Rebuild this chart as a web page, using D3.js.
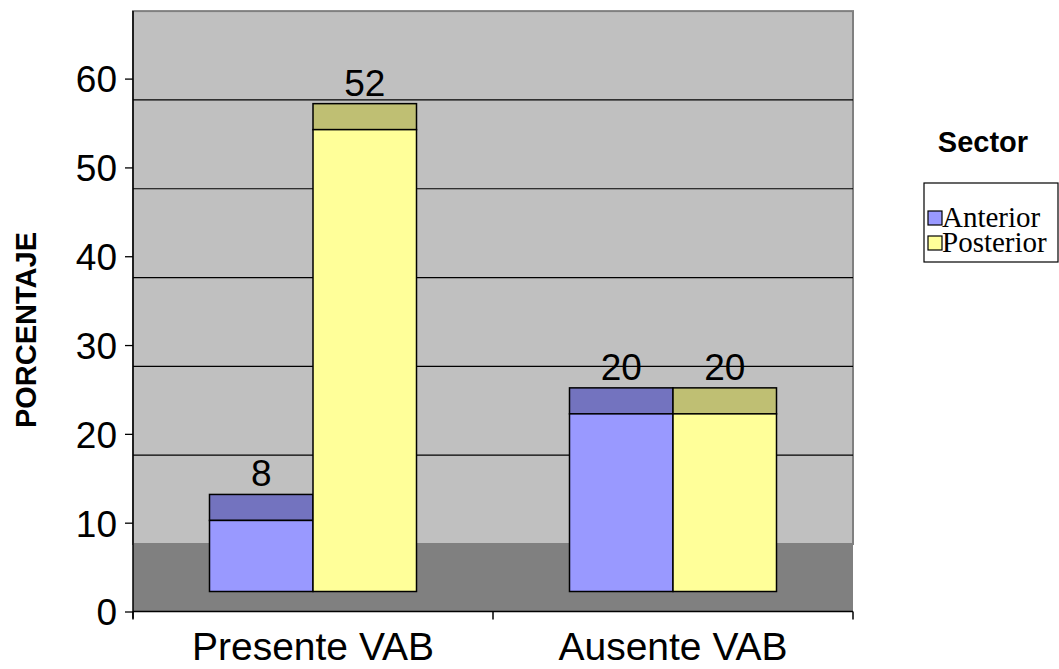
<!DOCTYPE html>
<html>
<head>
<meta charset="utf-8">
<script src="https://cdn.jsdelivr.net/npm/d3@7"></script>
<style>
  html, body { margin: 0; padding: 0; background: #ffffff; }
  svg { display: block; }
</style>
</head>
<body>
<svg id="chart" width="1059" height="669"></svg>
<script>
// Data
const categories = ["Presente VAB", "Ausente VAB"];
const seriesNames = ["Anterior", "Posterior"];
const anteriorValues = [8, 20];
const posteriorValues = [52, 20];
const yTicks = [0, 10, 20, 30, 40, 50, 60];
const yTitle = "PORCENTAJE";
const legendTitle = "Sector";

const seriesValues = [anteriorValues, posteriorValues];
const frontColors = ["#9999FF", "#FFFF99"];
const topColors = ["#7373BF", "#BFBF73"];

const svg = d3.select("#chart");

// Plot geometry (pseudo-3D: back wall drawn higher than the front plane)
const plotLeft = 133, plotRight = 853;
const frontZero = 611.5, frontTop = 78.6;
const depth = 67.5;          // vertical offset of back wall from front plane
const barFrontDepth = 20;    // front face of the bars
const barBackDepth = 46;     // back edge of the bar tops

const y = d3.scaleLinear().domain([0, 60]).range([frontZero, frontTop]);
const x0 = d3.scaleBand().domain(categories).range([plotLeft, plotRight]).padding(0);
const x1 = d3.scaleBand().domain(seriesNames).range([76.5, 283.5]).padding(0);

// Back wall
svg.append("rect")
  .attr("x", plotLeft).attr("y", y(60) - depth)
  .attr("width", plotRight - plotLeft).attr("height", y(0) - y(60))
  .attr("fill", "#C0C0C0").attr("stroke", "#808080").attr("stroke-width", 2);

// Floor
svg.append("rect")
  .attr("x", plotLeft).attr("y", y(0) - depth)
  .attr("width", plotRight - plotLeft).attr("height", depth)
  .attr("fill", "#808080");

// Gridlines on the wall
svg.append("g").selectAll("line")
  .data(yTicks.filter(t => t > 0 && t < 60))
  .join("line")
  .attr("x1", plotLeft).attr("x2", plotRight)
  .attr("y1", d => y(d) - depth).attr("y2", d => y(d) - depth)
  .attr("stroke", "#000").attr("stroke-width", 1.2);

// Bars
const bars = [];
categories.forEach((c, ci) => {
  seriesNames.forEach((s, si) => {
    bars.push({ cat: c, series: s, si, value: seriesValues[si][ci] });
  });
});

const barG = svg.append("g");
bars.forEach(b => {
  const bx = x0(b.cat) + x1(b.series);
  const bw = x1.bandwidth();
  const fy = y(b.value) - barFrontDepth;
  const by = y(b.value) - barBackDepth;
  const baseY = y(0) - barFrontDepth;
  // top face
  barG.append("rect")
    .attr("x", bx).attr("y", by).attr("width", bw).attr("height", fy - by)
    .attr("fill", topColors[b.si]).attr("stroke", "#000").attr("stroke-width", 1.5);
  // front face
  barG.append("rect")
    .attr("x", bx).attr("y", fy).attr("width", bw).attr("height", baseY - fy)
    .attr("fill", frontColors[b.si]).attr("stroke", "#000").attr("stroke-width", 1.5);
});

// Value labels
svg.append("g").selectAll("text")
  .data(bars)
  .join("text")
  .attr("x", d => x0(d.cat) + x1(d.series) + x1.bandwidth() / 2)
  .attr("y", d => y(d.value) - barBackDepth - 8)
  .attr("text-anchor", "middle")
  .attr("font-family", "Liberation Sans, Arial, sans-serif")
  .attr("font-size", 37)
  .attr("fill", "#000")
  .text(d => d.value);

// Y axis
const yAxis = d3.axisLeft(y).tickValues(yTicks).tickSize(8).tickPadding(8).tickFormat(d3.format("d"));
const yg = svg.append("g").attr("transform", `translate(${plotLeft},0)`).call(yAxis);
yg.select(".domain").remove();
yg.selectAll(".tick line").attr("stroke", "#000").attr("stroke-width", 1.3);
yg.selectAll(".tick text")
  .attr("font-family", "Liberation Sans, Arial, sans-serif")
  .attr("font-size", 37).attr("fill", "#000").attr("dy", "0.36em");
svg.append("line")
  .attr("x1", plotLeft).attr("x2", plotLeft)
  .attr("y1", y(60) - depth).attr("y2", y(0) + 7)
  .attr("stroke", "#000").attr("stroke-width", 1.5);

// X axis
svg.append("line")
  .attr("x1", plotLeft).attr("x2", plotRight)
  .attr("y1", y(0)).attr("y2", y(0))
  .attr("stroke", "#000").attr("stroke-width", 1.5);
const bounds = categories.map(c => x0(c)).concat([x0(categories[categories.length - 1]) + x0.bandwidth()]);
svg.append("g").selectAll("line")
  .data(bounds)
  .join("line")
  .attr("x1", d => d).attr("x2", d => d)
  .attr("y1", y(0)).attr("y2", y(0) + 8)
  .attr("stroke", "#000").attr("stroke-width", 1.5);
svg.append("g").selectAll("text")
  .data(categories)
  .join("text")
  .attr("x", d => x0(d) + x0.bandwidth() / 2)
  .attr("y", 660)
  .attr("text-anchor", "middle")
  .attr("font-family", "Liberation Sans, Arial, sans-serif")
  .attr("font-size", 39)
  .attr("fill", "#000")
  .text(d => d);

// Y title
svg.append("text")
  .attr("transform", "translate(36,330) rotate(-90)")
  .attr("text-anchor", "middle")
  .attr("font-family", "Liberation Sans, Arial, sans-serif")
  .attr("font-weight", "bold")
  .attr("font-size", 29)
  .attr("fill", "#000")
  .text(yTitle);

// Legend
svg.append("text")
  .attr("x", 983).attr("y", 152)
  .attr("text-anchor", "middle")
  .attr("font-family", "Liberation Sans, Arial, sans-serif")
  .attr("font-weight", "bold")
  .attr("font-size", 29)
  .attr("fill", "#000")
  .text(legendTitle);

const legend = svg.append("g");
legend.append("rect")
  .attr("x", 924).attr("y", 183).attr("width", 134).attr("height", 79)
  .attr("fill", "#fff").attr("stroke", "#000").attr("stroke-width", 1.2);
const items = legend.selectAll("g.item")
  .data(seriesNames)
  .join("g")
  .attr("class", "item")
  .attr("transform", (d, i) => `translate(928,${211 + i * 25})`);
items.append("rect")
  .attr("width", 14).attr("height", 14)
  .attr("fill", (d, i) => frontColors[i]).attr("stroke", "#000").attr("stroke-width", 1.2);
items.append("text")
  .attr("x", 14).attr("y", 16)
  .attr("font-family", "Liberation Serif, Times New Roman, serif")
  .attr("font-size", 29)
  .attr("fill", "#000")
  .text(d => d);
</script>
</body>
</html>
